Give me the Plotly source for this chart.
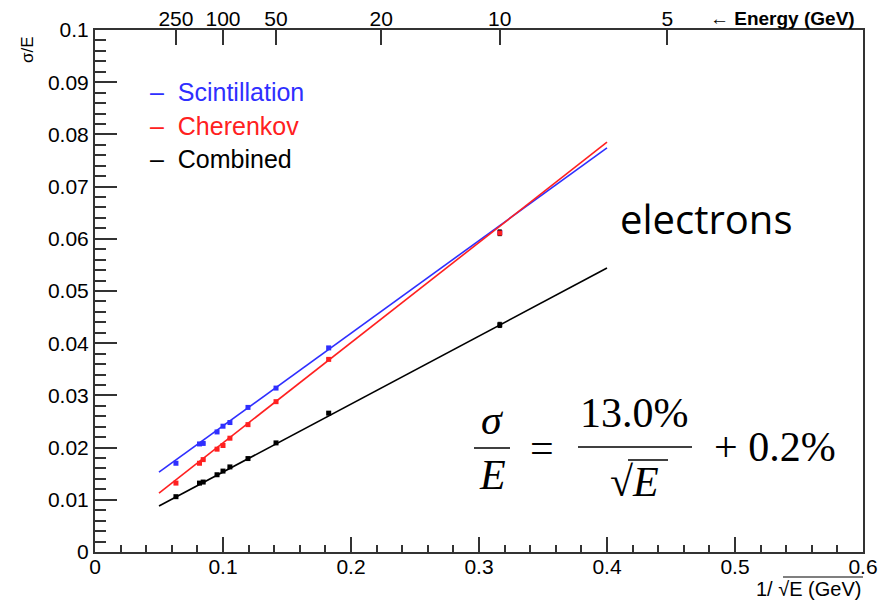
import numpy as np
import plotly.graph_objects as go

# ---------------- data ----------------
energies = [250, 150, 140, 110, 100, 90, 70, 50, 30, 10]          # GeV
scint_res = [0.0170, 0.0207, 0.0208, 0.0230, 0.0241, 0.0248, 0.0277, 0.0314, 0.0391, 0.0612]
cher_res = [0.0132, 0.0170, 0.0177, 0.0197, 0.0204, 0.0218, 0.0244, 0.0288, 0.0369, 0.0611]
comb_res = [0.0106, 0.0132, 0.0134, 0.0148, 0.0155, 0.0163, 0.0179, 0.0209, 0.0266, 0.0435]
res_err = [0.0001, 0.0001, 0.0001, 0.0001, 0.0001, 0.0001, 0.0001, 0.0001, 0.0002, 0.0005]

fit_x = [0.05, 0.40]
fit_scint = [0.0153, 0.0774]
fit_cher = [0.0113, 0.0785]
fit_comb = [0.0088, 0.0544]

top_energy_ticks = [250, 100, 50, 20, 10, 5]
x_ticks = [0, 0.1, 0.2, 0.3, 0.4, 0.5, 0.6]
x_tick_labels = ["0", "0.1", "0.2", "0.3", "0.4", "0.5", "0.6"]
y_ticks = [0, 0.01, 0.02, 0.03, 0.04, 0.05, 0.06, 0.07, 0.08, 0.09, 0.1]
y_tick_labels = ["0", "0.01", "0.02", "0.03", "0.04", "0.05", "0.06", "0.07", "0.08", "0.09", "0.1"]

series = [
    ("Scintillation", scint_res, fit_scint, "#2f2fff"),
    ("Cherenkov", cher_res, fit_cher, "#ff2020"),
    ("Combined", comb_res, fit_comb, "#000000"),
]

# ---------------- layout geometry ----------------
W, H = 879, 606
L, R, T, B = 95, 16, 30, 54
PW, PH = W - L - R, H - T - B


def px(xp):
    return (xp - L) / PW


def py(yp):
    return (H - B - yp) / PH


x_pts = [1 / np.sqrt(e) for e in energies]
top_tick_pos = [1 / np.sqrt(e) for e in top_energy_ticks]

fig = go.Figure()

for name, vals, fit, col in series:
    fig.add_trace(go.Scatter(
        x=fit_x, y=fit, mode="lines", line=dict(color=col, width=1.6),
        name=name, showlegend=False, hoverinfo="skip"))
    fig.add_trace(go.Scatter(
        x=x_pts, y=vals, mode="markers",
        marker=dict(symbol="square", size=5, color=col),
        error_y=dict(type="data", array=res_err, color="#000000", thickness=1, width=2),
        showlegend=False))

# dummy trace for the top energy axis
fig.add_trace(go.Scatter(x=top_tick_pos, y=[None] * len(top_tick_pos), xaxis="x2",
                         mode="markers", showlegend=False, hoverinfo="skip"))

axis_col = "#333333"
tick_font = dict(family="Liberation Sans, Arial, sans-serif", size=21, color="black")

fig.update_layout(
    width=W, height=H,
    margin=dict(l=L, r=R, t=T, b=B, autoexpand=False),
    paper_bgcolor="white", plot_bgcolor="white",
    showlegend=False,
    xaxis=dict(range=[0, 0.6], tickvals=x_ticks, ticktext=x_tick_labels, automargin=False,
               ticks="inside", ticklen=15, tickwidth=1.5, tickcolor=axis_col, ticklabelstandoff=-5,
               minor=dict(dtick=0.02, ticks="inside", ticklen=7, tickwidth=1.5, tickcolor=axis_col, showgrid=False),
               showline=True, linecolor=axis_col, linewidth=2, mirror=False,
               showgrid=False, zeroline=False, tickfont=tick_font),
    xaxis2=dict(range=[0, 0.6], overlaying="x", side="top", anchor="y", automargin=False,
                tickvals=top_tick_pos, ticktext=[str(e) for e in top_energy_ticks],
                ticks="inside", ticklen=15, tickwidth=1.5, tickcolor=axis_col, ticklabelstandoff=-6,
                showline=True, linecolor=axis_col, linewidth=1.5,
                showgrid=False, zeroline=False, tickfont=tick_font),
    yaxis=dict(range=[0, 0.1], tickvals=y_ticks, ticktext=y_tick_labels, automargin=False,
               ticks="inside", ticklen=22, tickwidth=1.5, tickcolor=axis_col,
               minor=dict(dtick=0.002, ticks="inside", ticklen=11, tickwidth=1.5, tickcolor=axis_col, showgrid=False),
               showline=True, linecolor=axis_col, linewidth=2, mirror=True,
               showgrid=False, zeroline=False, tickfont=tick_font),
)

ann = []
shapes = []

# axis titles
ann.append(dict(x=px(27), y=py(50), xref="paper", yref="paper", text="σ/E", textangle=-90,
                showarrow=False, font=dict(family="Liberation Sans, Arial", size=17, color="black"),
                xanchor="center", yanchor="middle"))
ann.append(dict(x=px(863), y=py(589), xref="paper", yref="paper", text="1/ √E (GeV)",
                showarrow=False, font=dict(family="Liberation Sans, Arial", size=20, color="black"),
                xanchor="right", yanchor="middle"))
shapes.append(dict(type="line", xref="paper", yref="paper", x0=px(783), x1=px(863),
                   y0=py(577), y1=py(577), line=dict(color="black", width=1.2)))
ann.append(dict(x=px(857), y=py(18), xref="paper", yref="paper", text="<b>← Energy (GeV)</b>",
                showarrow=False, font=dict(family="Liberation Sans, Arial", size=19, color="black"),
                xanchor="right", yanchor="middle"))

# legend
for i, (name, vals, fit, col) in enumerate(series):
    ann.append(dict(x=px(148), y=py(92 + 33.5 * i), xref="paper", yref="paper",
                    text="–  " + name, showarrow=False,
                    font=dict(family="Liberation Sans, Arial", size=25, color=col),
                    xanchor="left", yanchor="middle"))

# electrons label
ann.append(dict(x=px(706), y=py(219), xref="paper", yref="paper", text="electrons",
                showarrow=False, font=dict(family="Open Sans, sans-serif", size=40, color="black"),
                xanchor="center", yanchor="middle"))

# formula
serif = "Liberation Serif, DejaVu Serif, serif"
fs = 42
ann.append(dict(x=px(492), y=py(420), xref="paper", yref="paper", text="<i>σ</i>",
                showarrow=False, font=dict(family=serif, size=fs, color="black"),
                xanchor="center", yanchor="middle"))
shapes.append(dict(type="line", xref="paper", yref="paper", x0=px(474), x1=px(510),
                   y0=py(448), y1=py(448), line=dict(color="black", width=1.6)))
ann.append(dict(x=px(492), y=py(475), xref="paper", yref="paper", text="<i>E</i>",
                showarrow=False, font=dict(family=serif, size=fs, color="black"),
                xanchor="center", yanchor="middle"))
ann.append(dict(x=px(542), y=py(448), xref="paper", yref="paper", text="=",
                showarrow=False, font=dict(family=serif, size=fs, color="black"),
                xanchor="center", yanchor="middle"))
ann.append(dict(x=px(634), y=py(413), xref="paper", yref="paper", text="13.0%",
                showarrow=False, font=dict(family=serif, size=fs, color="black"),
                xanchor="center", yanchor="middle"))
shapes.append(dict(type="line", xref="paper", yref="paper", x0=px(578), x1=px(692),
                   y0=py(447), y1=py(447), line=dict(color="black", width=1.6)))
ann.append(dict(x=px(634), y=py(482), xref="paper", yref="paper", text="√<i>E</i>",
                showarrow=False, font=dict(family=serif, size=fs, color="black"),
                xanchor="center", yanchor="middle"))
shapes.append(dict(type="line", xref="paper", yref="paper", x0=px(628), x1=px(668),
                   y0=py(460), y1=py(460), line=dict(color="black", width=1.6)))
ann.append(dict(x=px(775), y=py(447), xref="paper", yref="paper", text="+ 0.2%",
                showarrow=False, font=dict(family=serif, size=fs, color="black"),
                xanchor="center", yanchor="middle"))

fig.update_layout(annotations=ann, shapes=shapes)

fig.write_html("out.html")
